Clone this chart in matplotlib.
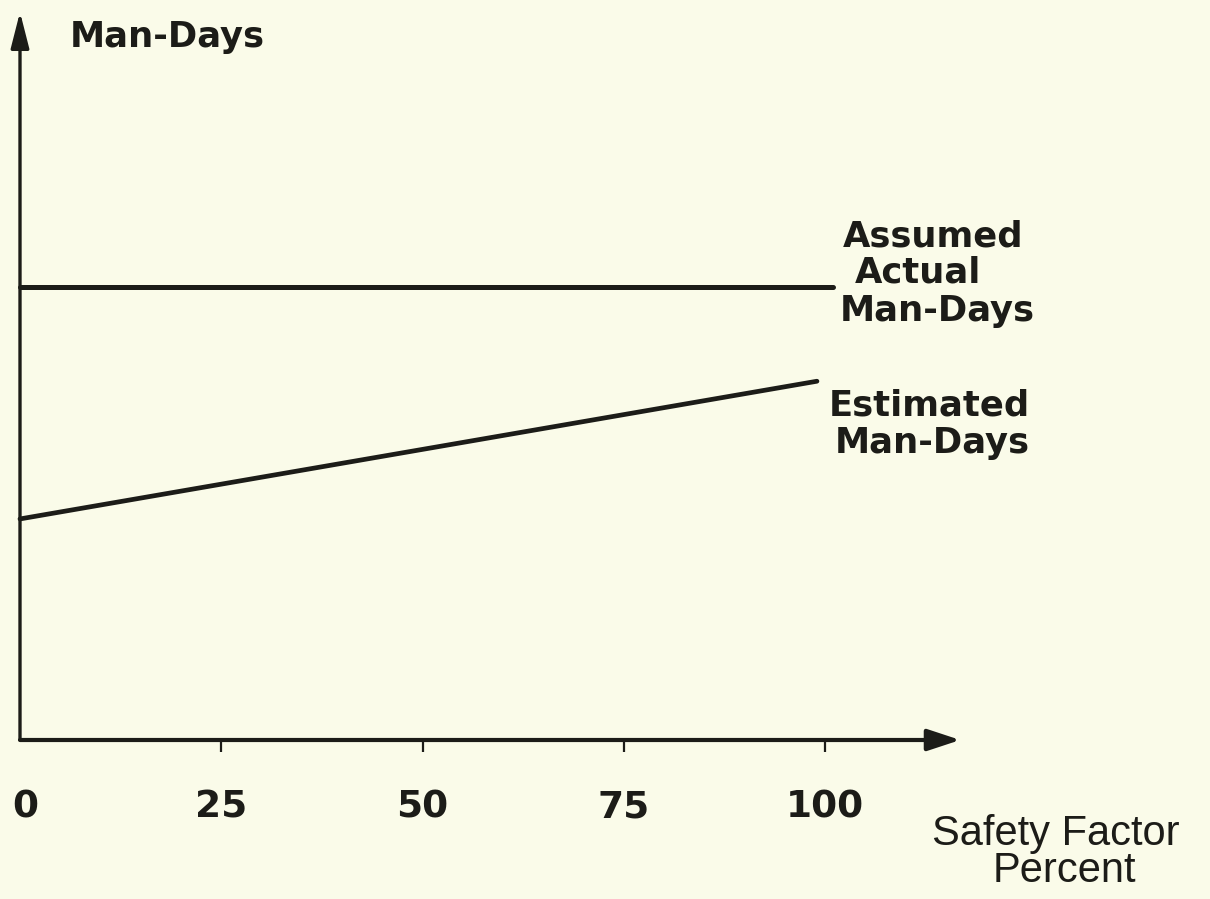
import matplotlib
matplotlib.use("Agg")
import matplotlib.pyplot as plt

# ---- data ----
x_ticks = [0, 25, 50, 75, 100]
tick_labels = ["0", "25", "50", "75", "100"]
actual_x = [0, 101]
actual_y = [100, 100]
estimated_x = [0, 99]
estimated_y = [48.8, 79.2]

BG = "#FAFBE9"
INK = "#1c1c18"

fig = plt.figure(figsize=(12.1, 8.99), dpi=100, facecolor=BG)
ax = fig.add_axes([0, 0, 1, 1], facecolor=BG)
ax.set_xlim(-20 / 8.05, (1210 - 20) / 8.05)
ax.set_ylim((740 - 899) / 4.53, 740 / 4.53)
ax.axis("off")

# axes arrows
ax.annotate("", xy=(116.8, 0), xytext=(0, 0),
            arrowprops=dict(arrowstyle="-|>,head_length=1.0,head_width=0.33",
                            lw=3.0, color=INK, shrinkA=0, shrinkB=0,
                            mutation_scale=20))
ax.annotate("", xy=(0, 160.7), xytext=(0, 0),
            arrowprops=dict(arrowstyle="-|>,head_length=1.1,head_width=0.28",
                            lw=2.4, color=INK, shrinkA=0, shrinkB=0,
                            mutation_scale=20))

# tick marks below x axis
ax.vlines(x_ticks[1:], -2.7, 0, color=INK, lw=1.6)

# tick labels
for xv, lab in zip(x_ticks, tick_labels):
    ax.text(xv + (0.7 if xv == 0 else 0), -17.2, lab, ha="center", va="baseline",
            fontsize=27, fontweight="bold", family="DejaVu Sans", color=INK)

# lines
ax.plot(actual_x, actual_y, color=INK, lw=3.6, solid_capstyle="round")
ax.plot(estimated_x, estimated_y, color=INK, lw=3.4, solid_capstyle="round")

bold = dict(fontsize=25.5, fontweight="bold", family="DejaVu Sans", color=INK,
            va="baseline")
ax.text(6.2, 153.0, "Man-Days", ha="left", **bold)
ax.text(113.4, 109.0, "Assumed", ha="center", **bold)
ax.text(111.6, 100.9, "Actual", ha="center", **bold)
ax.text(114.0, 92.5, "Man-Days", ha="center", **bold)
ax.text(113.0, 71.7, "Estimated", ha="center", **bold)
ax.text(113.3, 63.4, "Man-Days", ha="center", **bold)

light = dict(fontsize=30, family="Liberation Sans", color=INK, va="baseline",
             ha="center")
ax.text(128.7, -23.2, "Safety Factor", **light)
ax.text(129.7, -31.3, "Percent", **light)

fig.savefig("out.png", dpi=100, facecolor=BG)
